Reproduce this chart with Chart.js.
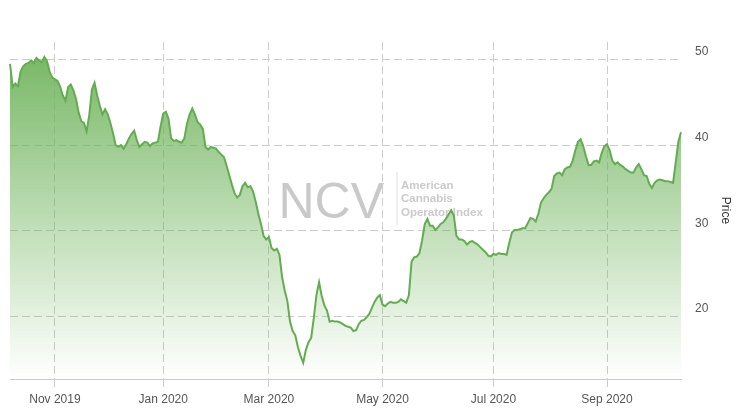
<!DOCTYPE html>
<html>
<head>
<meta charset="utf-8">
<title>NCV Price</title>
<script src="https://cdn.jsdelivr.net/npm/chart.js@4.4.0/dist/chart.umd.min.js"></script>
<style>
  html, body { margin: 0; padding: 0; background: #fff; }
  #wrap { width: 737px; height: 414px; position: relative; }
</style>
</head>
<body>
<div id="wrap"><canvas id="myChart"></canvas></div>
<script>
// trading days from 2019-10-09 to 2020-10-12 (US market calendar)
const firstDay = [2019, 9, 9];
const lastDay = [2020, 9, 12];
const holidays = ['2019-11-28', '2019-12-25', '2020-01-01', '2020-01-20', '2020-02-17',
                  '2020-04-10', '2020-05-25', '2020-07-03', '2020-09-07'];

const tickMonths = ['2019-11', '2020-01', '2020-03', '2020-05', '2020-07', '2020-09'];
const tickLabels = ['Nov 2019', 'Jan 2020', 'Mar 2020', 'May 2020', 'Jul 2020', 'Sep 2020'];
const yTicks = [20, 30, 40, 50];

// closing price, one value per trading day
const price = [
  49.5, 46.8, 47.2, 46.9, 48.6, 49.2, 49.5, 49.6, 49.9, 49.6,
  50.2, 49.9, 49.7, 50.3, 49.8, 48.6, 47.9, 47.7, 47.5, 46.8,
  45.8, 45.2, 46.8, 47.1, 46.4, 45.4, 43.8, 42.8, 42.6, 41.6,
  43.5, 46.5, 47.3, 45.8, 44.6, 43.6, 44.2, 43.6, 42.6, 41.4,
  40.0, 39.8, 40.0, 39.6, 40.1, 40.8, 41.3, 41.7, 40.6, 39.8,
  40.1, 40.4, 40.3, 39.9, 40.2, 40.3, 40.4, 42.2, 43.7, 43.9,
  43.1, 40.8, 40.5, 40.6, 40.4, 40.3, 40.8, 42.5, 43.6, 44.3,
  43.6, 42.7, 42.4, 41.9, 39.8, 39.5, 39.8, 39.7, 39.6, 39.2,
  38.9, 38.6, 37.6, 36.5, 35.4, 34.4, 33.9, 34.2, 35.2, 35.6,
  35.1, 35.2, 34.6, 33.4, 32.0, 30.8, 29.4, 29.0, 29.3, 28.0,
  27.7, 27.9, 27.2, 24.6, 23.0, 21.8, 19.4, 18.3, 17.8, 16.4,
  15.4, 14.6, 16.1, 17.0, 17.5, 19.8, 22.5, 24.0, 22.4, 21.3,
  20.7, 19.4, 19.5, 19.4, 19.4, 19.3, 19.1, 18.9, 18.8, 18.7,
  18.3, 18.4, 19.1, 19.5, 19.6, 19.9, 20.3, 21.0, 21.7, 22.2,
  22.5, 21.4, 21.2, 21.5, 21.7, 21.6, 21.6, 21.7, 22.0, 21.8,
  21.6, 22.5, 26.4, 26.9, 27.0, 27.4, 28.9, 30.8, 31.4, 30.6,
  30.6, 30.1, 30.4, 30.8, 31.0, 31.4, 31.9, 32.4, 31.8, 29.4,
  29.0, 29.0, 28.8, 28.4, 28.7, 28.8, 28.6, 28.4, 28.1, 27.8,
  27.5, 27.1, 27.0, 27.3, 27.2, 27.4, 27.3, 27.3, 27.2, 28.6,
  29.8, 30.1, 30.1, 30.2, 30.3, 30.3, 30.9, 31.5, 31.4, 31.1,
  32.0, 33.3, 33.8, 34.2, 34.5, 34.9, 36.4, 36.7, 36.8, 36.5,
  37.2, 37.4, 37.5, 38.2, 39.4, 40.4, 40.7, 39.9, 38.7, 37.7,
  37.7, 38.1, 38.2, 38.0, 39.1, 39.9, 40.1, 39.4, 38.2, 37.8,
  38.0, 37.7, 37.5, 37.2, 37.0, 36.8, 36.8, 37.4, 37.8, 37.2,
  36.5, 36.4, 35.5, 35.0, 35.6, 35.9, 36.0, 35.9, 35.8, 35.8,
  35.7, 35.6, 38.0, 40.4, 41.5
];

const pad = n => String(n).padStart(2, '0');
const days = [];
for (let d = new Date(...firstDay); d <= new Date(...lastDay); d.setDate(d.getDate() + 1)) {
  const key = d.getFullYear() + '-' + pad(d.getMonth() + 1) + '-' + pad(d.getDate());
  if (d.getDay() === 0 || d.getDay() === 6 || holidays.includes(key)) continue;
  days.push(key);
}
const tickIndex = tickMonths.map(m => days.findIndex(d => d.startsWith(m)));

// NCV logo behind the line
const watermark = {
  id: 'watermark',
  beforeDatasetsDraw(chart) {
    const {ctx, chartArea} = chart;
    const cx = (chartArea.left + chartArea.right) / 2;
    const cy = (chartArea.top + chartArea.bottom) / 2;
    ctx.save();
    ctx.fillStyle = '#c9c9c9';
    ctx.font = '50px Arial, "Liberation Sans", sans-serif';
    ctx.textBaseline = 'alphabetic';
    ctx.textAlign = 'left';
    ctx.fillText('NCV', cx - 67, cy + 7);
    ctx.strokeStyle = '#dcdcdc';
    ctx.lineWidth = 1;
    ctx.beginPath();
    ctx.moveTo(cx + 51.5, cy - 38.5);
    ctx.lineTo(cx + 51.5, cy + 14.5);
    ctx.stroke();
    ctx.font = 'bold 11.5px Arial, "Liberation Sans", sans-serif';
    ctx.textBaseline = 'middle';
    ctx.fillStyle = '#cbcbcb';
    ['American', 'Cannabis', 'Operator Index'].forEach((t, i) => {
      ctx.fillText(t, cx + 55.5, cy - 24.5 + i * 13.3);
    });
    ctx.restore();
  }
};

Chart.defaults.font.family = 'Arial, "Liberation Sans", sans-serif';
Chart.defaults.font.size = 12;

const ctx = document.getElementById('myChart').getContext('2d');
const myChart = new Chart(ctx, {
  type: 'line',
  data: {
    labels: days,
    datasets: [{
      label: 'Price',
      data: price,
      borderColor: '#62ad4f',
      borderWidth: 2,
      pointRadius: 0,
      tension: 0,
      fill: 'start',
      backgroundColor: (context) => {
        const {ctx, chartArea} = context.chart;
        if (!chartArea) return 'rgba(112,180,92,0.5)';
        const g = ctx.createLinearGradient(0, chartArea.top, 0, chartArea.bottom);
        g.addColorStop(0, 'rgba(108,178,88,0.95)');
        g.addColorStop(1, 'rgba(108,178,88,0)');
        return g;
      }
    }]
  },
  options: {
    responsive: true,
    maintainAspectRatio: false,
    animation: false,
    layout: { padding: { left: 10, top: 42, right: 0, bottom: 0 } },
    plugins: {
      legend: { display: false },
      tooltip: { enabled: false }
    },
    scales: {
      x: {
        type: 'category',
        afterBuildTicks: scale => { scale.ticks = tickIndex.map(i => ({ value: i })); },
        afterFit: scale => { scale.height = 35; },
        grid: {
          color: '#cccccc',
          tickLength: 8,
          tickColor: '#cccccc',
          tickBorderDash: [8, 4]
        },
        border: { display: true, color: '#cccccc', width: 1, dash: [8, 4] },
        ticks: {
          autoSkip: false,
          maxRotation: 0,
          padding: 5,
          color: '#555',
          callback: function (value, index) { return tickLabels[index]; }
        }
      },
      y: {
        position: 'right',
        min: 12.7,
        max: 52.05,
        afterBuildTicks: scale => { scale.ticks = yTicks.map(v => ({ value: v })); },
        afterFit: scale => { scale.width = 56; },
        grid: { color: '#cccccc', drawTicks: false },
        border: { display: false, dash: [8, 4] },
        ticks: { padding: 14, labelOffset: -7.5, color: '#555' },
        title: { display: true, text: 'Price', color: '#333', font: { size: 12 } }
      }
    }
  },
  plugins: [watermark]
});
</script>
</body>
</html>
